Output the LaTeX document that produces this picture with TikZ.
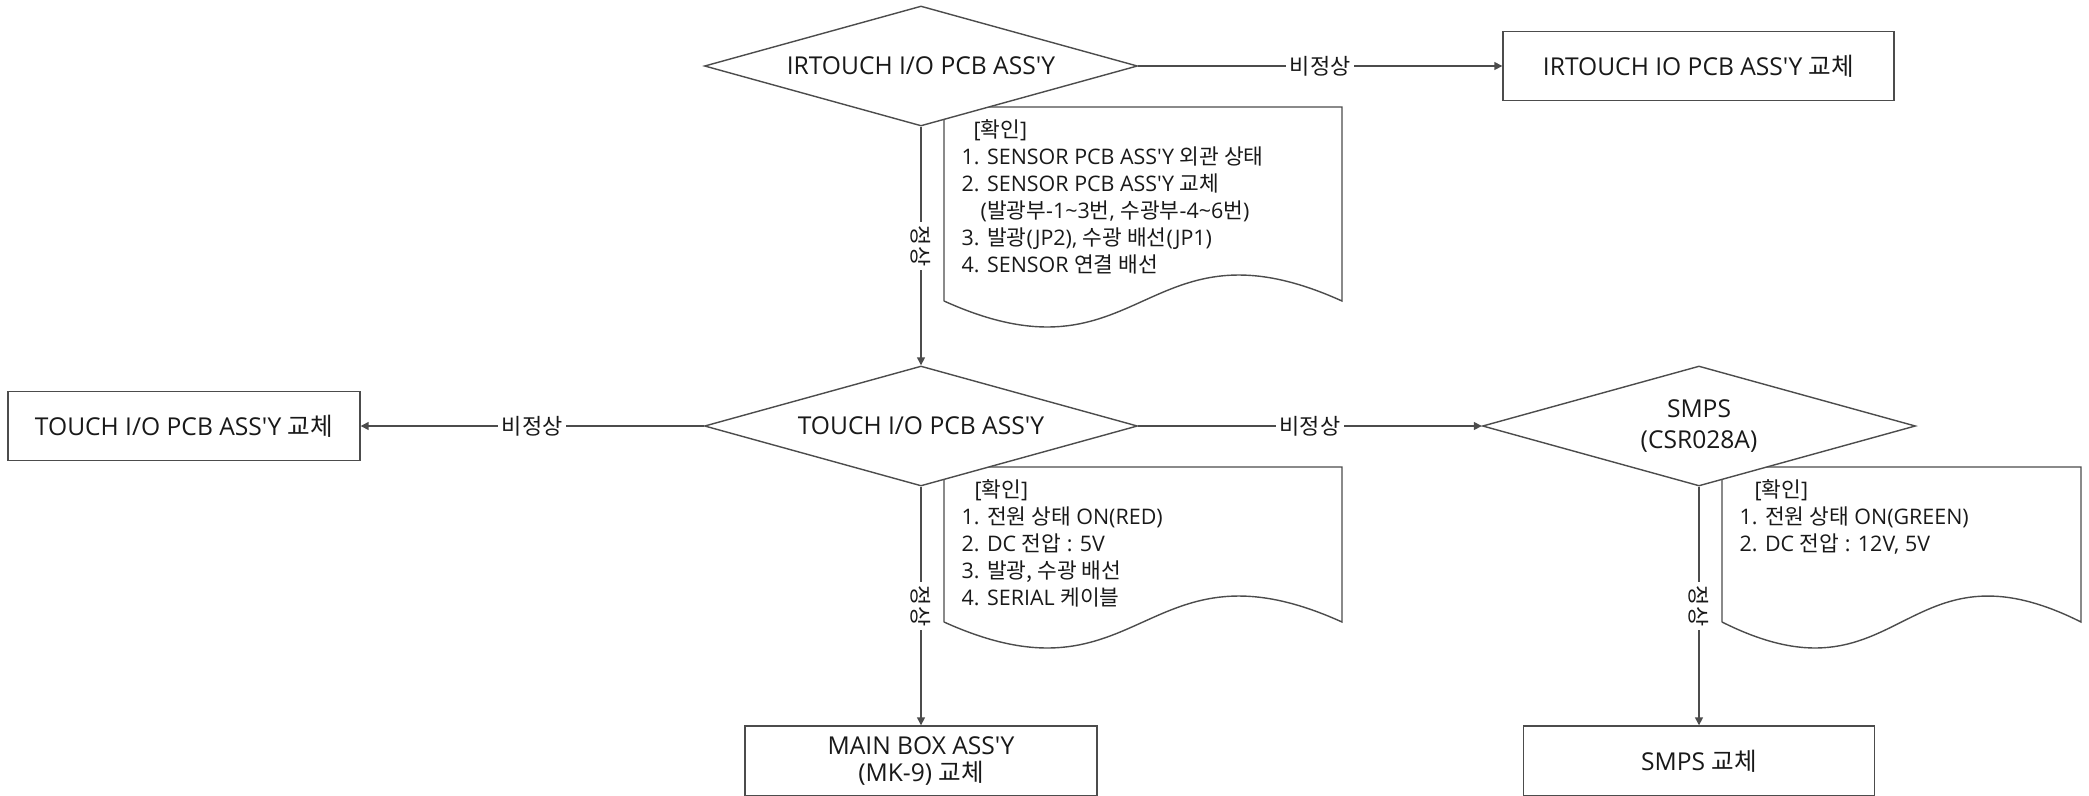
\documentclass[tikz,border=0pt]{standalone}
\usepackage{fontspec}
\newfontfamily\enfont{Open Sans}
\newfontfamily\krfont{Noto Sans CJK KR}
\newcommand{\hg}[1]{{\krfont #1}}
\usepackage{tikz}
\usetikzlibrary{arrows.meta, calc, shapes.geometric, positioning}

\tikzset{
  decision/.style={diamond, draw=black!70, fill=white, aspect=3.6, inner sep=0pt,
    minimum width=8.66cm, minimum height=2.4cm, align=center, text=black!90,
    font=\enfont\fontsize{14}{16}\selectfont},
  result/.style={rectangle, draw=black!70, fill=white, inner sep=0pt,
    minimum height=1.38cm, align=center, text=black!90,
    font=\enfont\fontsize{14}{15}\selectfont},
  memo/.style={anchor=north west, inner sep=0pt, align=left, text=black!90,
    font=\enfont\fontsize{12.2}{15.3}\selectfont},
  flow/.style={draw=black!70, -{Triangle[length=4.5pt, width=4.5pt]}},
  nglabel/.style={fill=white, inner sep=2pt, text=black!90,
    font=\krfont\fontsize{12.5}{14}\selectfont},
  oklabel/.style={nglabel, rotate=-90},
}

% paper sheet with a wavy lower edge: left, top, right, bottom
\newcommand{\docshape}[4]{%
  \draw[draw=black!70] (#1,#4) -- (#1,#2) -- (#3,#2) -- (#3,#4)
    .. controls ({(#1+#3)/2},{#4+1.8}) and ({(#1+#3)/2},{#4-1.8}) .. (#1,#4);
}

\begin{document}
\begin{tikzpicture}[line width=0.8pt]
\useasboundingbox (0,0) rectangle (41.78,-15.9);
\clip (0,0) rectangle (41.78,-15.9);

% check lists
\docshape{18.88}{-2.14}{26.84}{-6.02}
\docshape{18.88}{-9.34}{26.84}{-12.44}
\docshape{34.44}{-9.34}{41.62}{-12.44}

\node[memo] (memoirt) at (19.22,-2.38) {%
  \hspace*{0.24cm}[\hg{확인}]\\
  1. SENSOR PCB ASS'Y \hg{외관 상태}\\
  2. SENSOR PCB ASS'Y \hg{교체}\\
  \hspace*{0.38cm}(\hg{발광부}-1\textasciitilde 3\hg{번}, \hg{수광부}-4\textasciitilde 6\hg{번})\\
  3. \hg{발광}(JP2), \hg{수광 배선}(JP1)\\
  4. SENSOR \hg{연결 배선}};
\node[memo] (memotouch) at (19.22,-9.58) {%
  \hspace*{0.26cm}[\hg{확인}]\\
  1. \hg{전원 상태} ON(RED)\\
  2. DC \hg{전압} : 5V\\
  3. \hg{발광, 수광 배선}\\
  4. SERIAL \hg{케이블}};
\node[memo] (memosmps) at (34.78,-9.58) {%
  \hspace*{0.30cm}[\hg{확인}]\\
  1. \hg{전원 상태} ON(GREEN)\\
  2. DC \hg{전압} : 12V, 5V};

% checks
\node[decision] (irtouchio) at (18.42,-1.32) {IRTOUCH I/O PCB ASS'Y};
\node[decision] (touchio) at (18.42,-8.52) {TOUCH I/O PCB ASS'Y};
\node[decision] (smps) at (33.98,-8.52) {SMPS\\[1.5pt](CSR028A)};

% replacements
\node[result, minimum width=7.82cm] (irtouchrep) at (33.97,-1.32) {IRTOUCH IO PCB ASS'Y \hg{교체}};
\node[result, minimum width=7.04cm] (touchrep) at (3.68,-8.52) {TOUCH I/O PCB ASS'Y \hg{교체}};
\node[result, minimum width=7.04cm, minimum height=1.4cm] (mainbox) at (18.42,-15.22) {MAIN BOX ASS'Y\\(MK-9) \hg{교체}};
\node[result, minimum width=7.02cm, minimum height=1.4cm] (smpsrep) at (33.98,-15.22) {SMPS \hg{교체}};

% connectors
\draw[flow] (irtouchio.east) -- node[nglabel] {비정상} (irtouchrep.west);
\draw[flow] (irtouchio.south) -- node[oklabel] {정상} (touchio.north);
\draw[flow] (touchio.west) -- node[nglabel] {비정상} (touchrep.east);
\draw[flow] (touchio.east) -- node[nglabel] {비정상} (smps.west);
\draw[flow] (touchio.south) -- node[oklabel] {정상} (mainbox.north);
\draw[flow] (smps.south) -- node[oklabel] {정상} (smpsrep.north);
\end{tikzpicture}
\end{document}
